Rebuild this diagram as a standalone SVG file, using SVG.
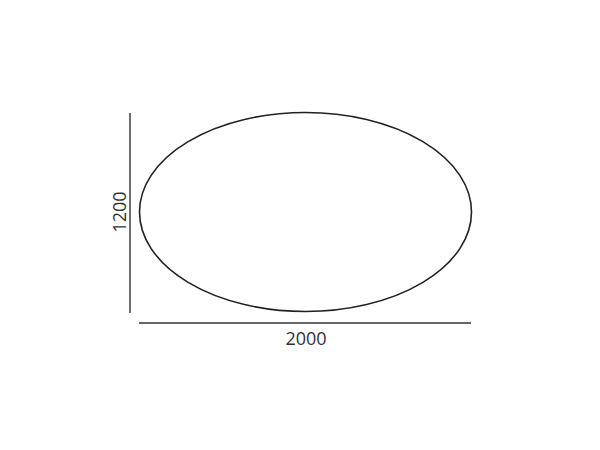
<svg xmlns="http://www.w3.org/2000/svg" width="600" height="450" viewBox="0 0 600 450">
<style>
.ln{stroke:#222;stroke-width:1.6;fill:none}
.dim{stroke:#333;stroke-width:1.4;fill:none}
.lbl{font-family:"Open Sans","Liberation Sans",sans-serif;font-size:18px;fill:#333}
</style>
<rect width="600" height="450" fill="#fff"/>
<g id="table">
<ellipse class="ln" cx="305.5" cy="212" rx="166" ry="99.5"/>
</g>
<g id="connectors">
<line class="dim" x1="130" y1="113" x2="130" y2="313"/>
<line class="dim" x1="139" y1="323" x2="471" y2="323"/>
</g>
<g id="labels">
<text class="lbl" x="306" y="345" text-anchor="middle">2000</text>
<text class="lbl" x="0" y="0" text-anchor="middle" transform="translate(126,212) rotate(-90)">1200</text>
</g>
</svg>
